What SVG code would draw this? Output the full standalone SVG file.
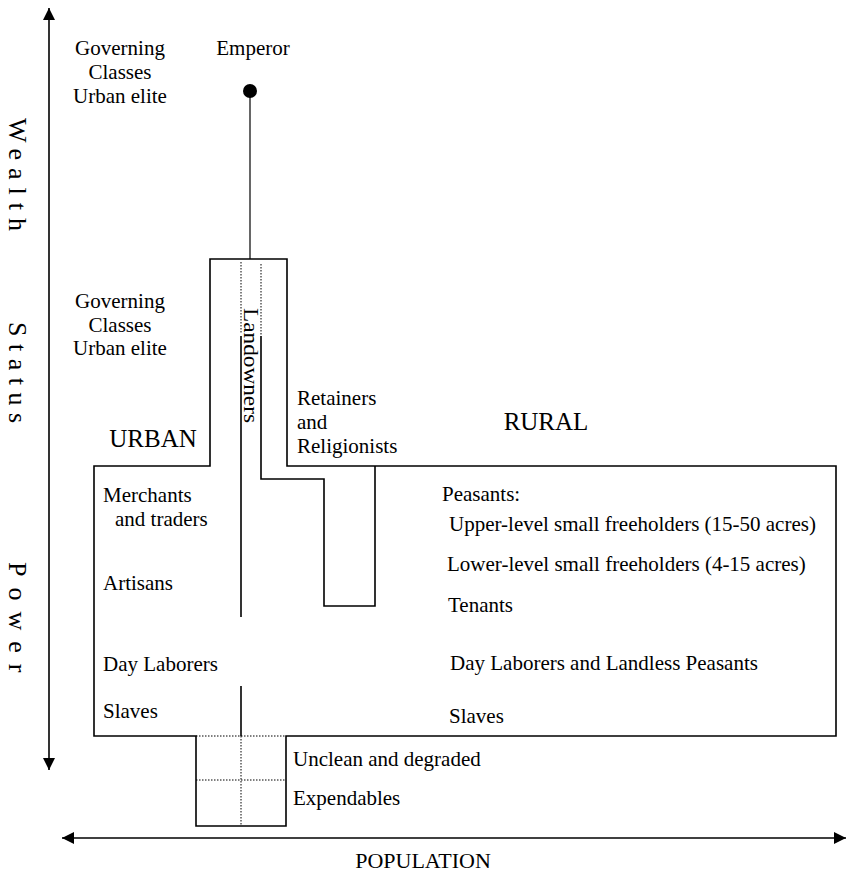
<svg xmlns="http://www.w3.org/2000/svg" width="846" height="873" viewBox="0 0 846 873">
<style>
.solid{fill:none;stroke:#000;stroke-width:1.6;}
.thin{fill:none;stroke:#000;stroke-width:1.2;}
.dot{fill:none;stroke:#000;stroke-width:1;stroke-dasharray:1.5 1.5;}
</style>
<defs>
<marker id="ah" viewBox="0 0 12 12" refX="12" refY="6" markerWidth="12" markerHeight="12" markerUnits="userSpaceOnUse" orient="auto-start-reverse">
<path d="M0,0 L12,6 L0,12 Z" fill="#000"/>
</marker>
</defs>
<rect width="846" height="873" fill="#fff"/>

<g id="connectors">
<line x1="49" y1="8" x2="49" y2="770" class="solid" marker-start="url(#ah)" marker-end="url(#ah)"/>
<line x1="62" y1="838" x2="846" y2="838" class="solid" marker-start="url(#ah)" marker-end="url(#ah)"/>
<line x1="250" y1="91" x2="250" y2="259" class="thin"/>
</g>

<g id="structure">
<path class="solid" d="M210,259 L287,259 L287,466 L836,466 L836,736 L286,736 L286,826 L196,826 L196,736 L94,736 L94,466 L210,466 Z"/>
<line class="dot" x1="196" y1="736" x2="286" y2="736"/>
<line class="dot" x1="196" y1="780" x2="286" y2="780"/>
<line class="dot" x1="241" y1="262" x2="241" y2="334"/>
<line class="dot" x1="261" y1="264" x2="261" y2="336"/>
<line class="solid" x1="241" y1="336" x2="241" y2="617"/>
<line class="solid" x1="241" y1="686" x2="241" y2="736"/>
<line class="dot" x1="241" y1="736" x2="241" y2="826"/>
<path class="solid" d="M261,336 L261,479 L324,479 L324,606 L375,606 L375,466"/>
</g>

<g font-family="Liberation Serif, DejaVu Serif, serif" fill="#000">
<g id="emperor">
<circle cx="250" cy="91" r="7" fill="#000"/>
<text font-size="21" x="253" y="55" text-anchor="middle">Emperor</text>
</g>

<g id="axis-labels">
<text font-size="26" transform="translate(9,118) rotate(90)" letter-spacing="8">Wealth</text>
<text font-size="26" transform="translate(9,322) rotate(90)" letter-spacing="7.5">Status</text>
<text font-size="26" transform="translate(9,562) rotate(90)" letter-spacing="11">Power</text>
<text font-size="22" x="423" y="868" text-anchor="middle">POPULATION</text>
</g>

<g id="governing-top" font-size="21">
<text x="120" y="55" text-anchor="middle">Governing</text>
<text x="120" y="79" text-anchor="middle">Classes</text>
<text x="120" y="103" text-anchor="middle">Urban elite</text>
</g>

<g id="governing-mid" font-size="21">
<text x="120" y="308" text-anchor="middle">Governing</text>
<text x="120" y="332" text-anchor="middle">Classes</text>
<text x="120" y="355" text-anchor="middle">Urban elite</text>
</g>

<g id="urban"><text font-size="25" x="153" y="447" text-anchor="middle">URBAN</text></g>
<g id="rural"><text font-size="25" x="546" y="430" text-anchor="middle">RURAL</text></g>

<g id="landowners">
<text font-size="22" transform="translate(244,308) rotate(90)" textLength="115" lengthAdjust="spacingAndGlyphs">Landowners</text>
</g>

<g id="retainers" font-size="21">
<text x="297" y="405">Retainers</text>
<text x="297" y="429">and</text>
<text x="297" y="453">Religionists</text>
</g>

<g id="urban-classes" font-size="21">
<text x="103" y="502">Merchants</text>
<text x="115" y="526">and traders</text>
<text x="103" y="590">Artisans</text>
<text x="103" y="671">Day Laborers</text>
<text x="103" y="718">Slaves</text>
</g>

<g id="rural-classes" font-size="21">
<text x="442" y="501">Peasants:</text>
<text x="449" y="531">Upper-level small freeholders (15-50 acres)</text>
<text x="447" y="571">Lower-level small freeholders (4-15 acres)</text>
<text x="448" y="612">Tenants</text>
<text x="450" y="670">Day Laborers and Landless Peasants</text>
<text x="449" y="723">Slaves</text>
</g>

<g id="lowest" font-size="21">
<text x="293" y="766">Unclean and degraded</text>
<text x="293" y="805">Expendables</text>
</g>
</g>
</svg>
